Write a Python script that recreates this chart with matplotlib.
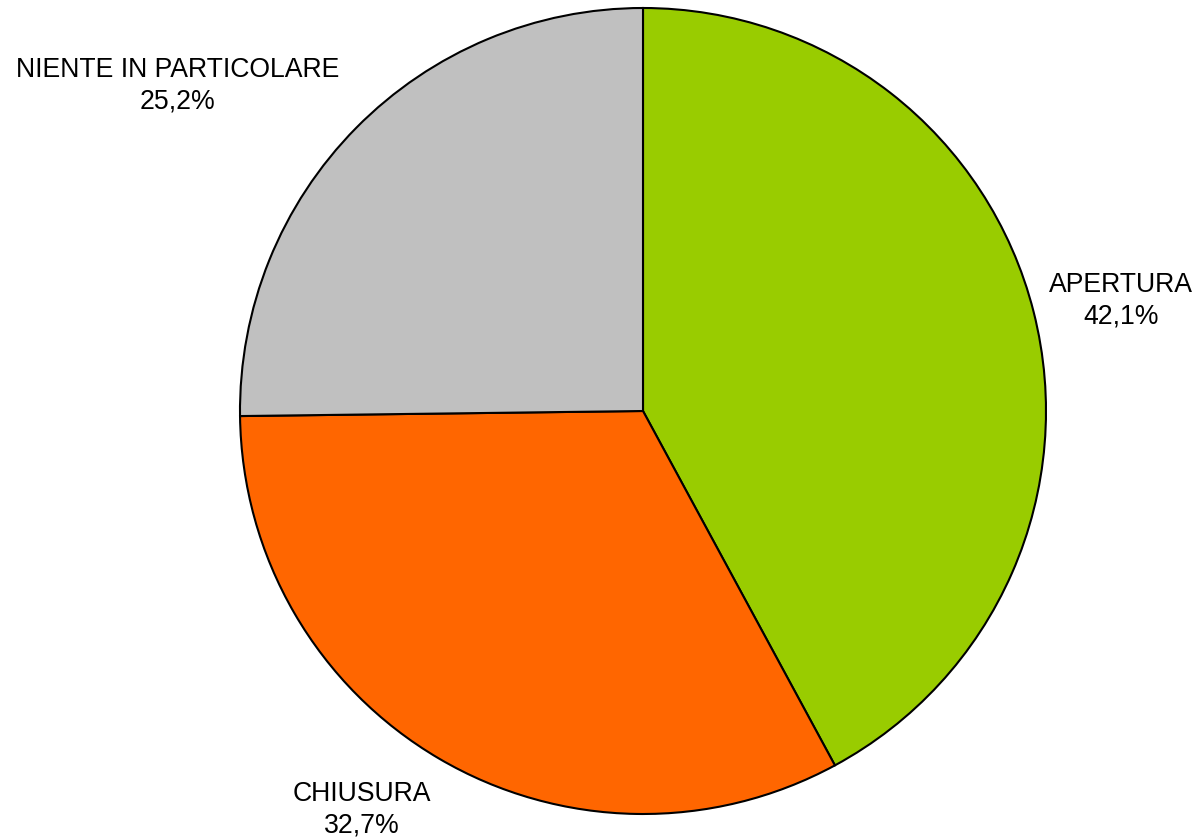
import matplotlib.pyplot as plt

plt.rcParams['font.family'] = ['Liberation Sans', 'DejaVu Sans']

labels = ["APERTURA", "CHIUSURA", "NIENTE IN PARTICOLARE"]
shares = [42.1, 32.7, 25.2]
colors = ["#99CC00", "#FF6600", "#C0C0C0"]

# label anchor points (in pie units)
label_pos = [(1.186, 0.273), (-0.697, -0.99), (-1.154, 0.806)]

fig = plt.figure(figsize=(11.98, 8.38), dpi=100)
ax = fig.add_axes([240 / 1198, 24 / 838, 806 / 1198, 806 / 838])

ax.pie(
    shares,
    colors=colors,
    startangle=90,
    counterclock=False,
    wedgeprops={"edgecolor": "black", "linewidth": 1.5},
)
ax.set_xlim(-1, 1)
ax.set_ylim(-1, 1)
ax.set_aspect('equal')

for name, val, (x, y) in zip(labels, shares, label_pos):
    txt = f"{name}\n{val:.1f}%".replace(".", ",")
    ax.text(x, y, txt, ha='center', va='center', fontsize=19.2,
            linespacing=1.27, clip_on=False)

fig.savefig("out.png", dpi=100)
